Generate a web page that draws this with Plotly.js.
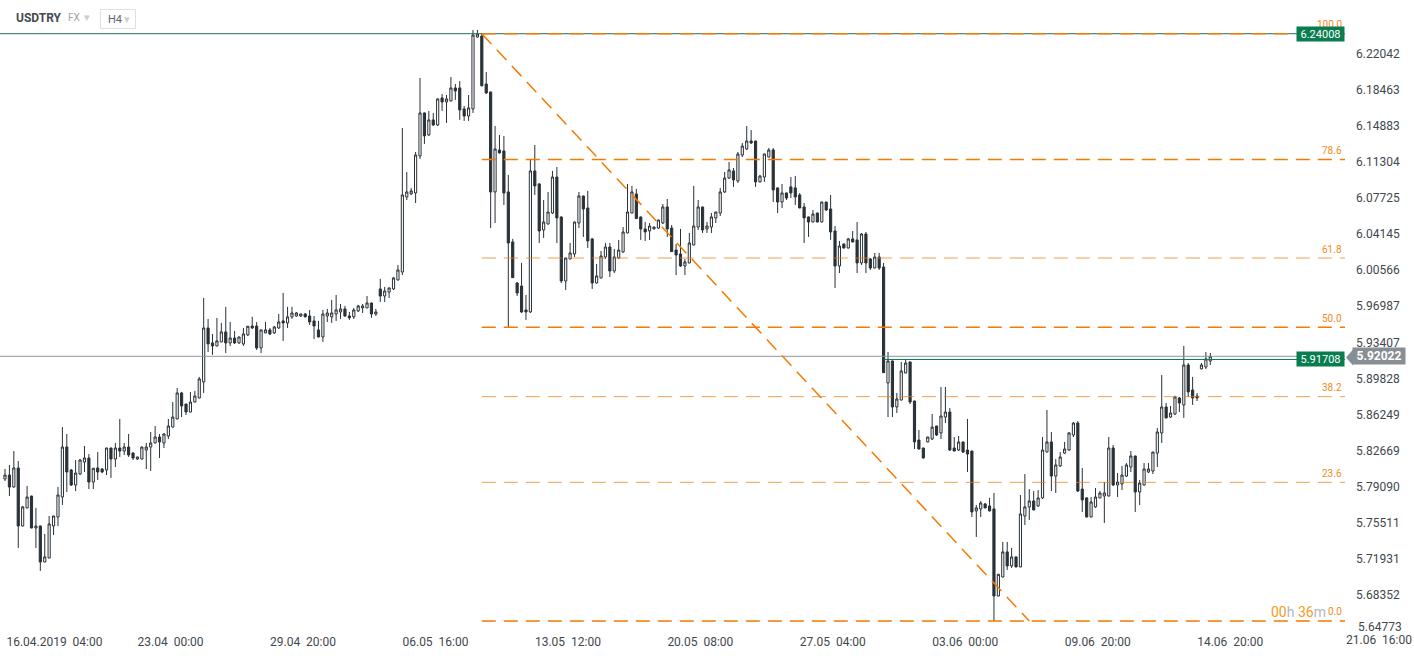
<!DOCTYPE html>
<html>
<head>
<meta charset="utf-8">
<script src="https://cdn.plot.ly/plotly-3.0.1.min.js"></script>
<style>
html,body{margin:0;padding:0;background:#fff;}
#chart{width:1414px;height:658px;}
</style>
</head>
<body>
<div id="chart"></div>
<script>
// ---------- DATA (USDTRY, H4) ----------
const symbol = 'USDTRY';
const market = 'FX';
const timeframe = 'H4';

const openP = [
5.7986,5.8025,5.7906,5.8095,5.7520,5.7699,5.7817,5.7500,5.7520,5.7163,
5.7203,5.7520,5.7609,5.7807,5.8303,5.8075,5.7926,5.8035,5.8154,5.8194,
5.7956,5.8095,5.8085,5.8075,5.8293,5.8184,5.8293,5.8263,5.8303,5.8243,
5.8184,5.8184,5.8273,5.8303,5.8343,5.8402,5.8343,5.8412,5.8501,5.8581,
5.8839,5.8729,5.8650,5.8749,5.8789,5.8948,5.9483,5.9335,5.9305,5.9345,
5.9444,5.9335,5.9384,5.9335,5.9325,5.9414,5.9503,5.9503,5.9285,5.9434,
5.9464,5.9434,5.9483,5.9553,5.9533,5.9593,5.9602,5.9602,5.9622,5.9602,
5.9553,5.9464,5.9394,5.9602,5.9593,5.9622,5.9642,5.9672,5.9602,5.9593,
5.9652,5.9682,5.9682,5.9731,5.9622,5.9870,5.9800,5.9840,5.9870,5.9959,
6.0038,6.0782,6.0812,6.0822,6.1188,6.1615,6.1397,6.1546,6.1496,6.1764,
6.1724,6.1734,6.1863,6.1863,6.1655,6.1585,6.1655,6.2368,6.2378,6.1902,
6.1823,6.0832,6.1248,6.1238,6.0832,6.0336,5.9929,5.9899,5.9662,5.9642,
6.1040,6.0911,6.0455,6.0514,6.0623,6.0980,6.0584,5.9949,6.0167,6.0217,
6.0524,6.0792,6.0673,6.0366,5.9929,5.9979,6.0187,6.0286,6.0048,6.0177,
6.0237,6.0425,6.0623,6.0812,6.0584,6.0465,6.0445,6.0465,6.0474,6.0524,
6.0683,6.0474,6.0256,6.0217,6.0098,6.0128,6.0306,6.0484,6.0683,6.0465,
6.0484,6.0574,6.0623,6.0832,6.0970,6.1040,6.0941,6.1198,6.1258,6.1337,
6.1337,6.0931,6.0980,6.1178,6.1248,6.0872,6.0732,6.0822,6.0882,6.0872,
6.0802,6.0683,6.0584,6.0534,6.0623,6.0534,6.0732,6.0663,6.0445,6.0098,
6.0316,6.0276,6.0366,6.0356,6.0128,6.0415,6.0167,6.0078,6.0187,6.0088,
5.8938,5.9156,5.8700,5.8769,5.9037,5.9146,5.8759,5.8372,5.8293,5.8353,
5.8382,5.8511,5.8442,5.8600,5.8650,5.8293,5.8273,5.8353,5.8273,5.8263,
5.7669,5.7689,5.7738,5.7719,5.7689,5.6826,5.7014,5.7263,5.7124,5.7213,
5.7114,5.7619,5.7709,5.7768,5.7719,5.7798,5.8253,5.8353,5.8015,5.8115,
5.8243,5.8273,5.8422,5.8541,5.7886,5.7798,5.7609,5.7709,5.7798,5.7817,
5.7817,5.8293,5.7926,5.7936,5.8015,5.8105,5.8214,5.7857,5.7926,5.8055,
5.8065,5.8243,5.8442,5.8700,5.8600,5.8630,5.8789,5.8720,5.9116,5.8868,
5.8809,5.9077,5.9096,5.9156
];
const highP = [
5.8085,5.8125,5.8263,5.8164,5.7719,5.7916,5.7820,5.7699,5.7523,5.7441,
5.7619,5.7622,5.7906,5.8501,5.8432,5.8085,5.8174,5.8184,5.8313,5.8233,
5.8095,5.8253,5.8095,5.8296,5.8296,5.8343,5.8581,5.8343,5.8432,5.8253,
5.8207,5.8306,5.8343,5.8452,5.8511,5.8432,5.8442,5.8581,5.8749,5.8888,
5.8849,5.8732,5.8849,5.8859,5.8998,5.9780,5.9573,5.9424,5.9583,5.9533,
5.9692,5.9543,5.9454,5.9397,5.9483,5.9503,5.9593,5.9543,5.9467,5.9543,
5.9483,5.9503,5.9622,5.9830,5.9692,5.9692,5.9642,5.9625,5.9632,5.9662,
5.9602,5.9553,5.9662,5.9672,5.9761,5.9810,5.9721,5.9702,5.9642,5.9682,
5.9712,5.9721,5.9800,5.9735,5.9672,5.9969,5.9890,5.9883,5.9989,6.0108,
6.1466,6.1030,6.0872,6.1228,6.1962,6.1620,6.1635,6.1615,6.1758,6.1803,
6.1794,6.1972,6.1902,6.1932,6.1684,6.1793,6.2438,6.2438,6.2408,6.2021,
6.1826,6.1486,6.1397,6.1387,6.1000,6.0366,5.9939,6.0128,5.9810,6.1159,
6.1298,6.0921,6.0752,6.0832,6.1040,6.1079,6.0588,6.0180,6.0326,6.0537,
6.0832,6.0795,6.0842,6.0376,6.0118,6.0247,6.0326,6.0326,6.0266,6.0356,
6.0484,6.0911,6.0892,6.0862,6.0588,6.0534,6.0524,6.0488,6.0557,6.0712,
6.0762,6.0504,6.0316,6.0465,6.0167,6.0425,6.0892,6.0752,6.0686,6.0534,
6.0623,6.0636,6.0872,6.1030,6.1129,6.1069,6.1228,6.1317,6.1486,6.1446,
6.1340,6.1000,6.1212,6.1268,6.1268,6.0875,6.0911,6.0825,6.0980,6.0990,
6.0822,6.0722,6.0588,6.0653,6.0626,6.0735,6.0735,6.0802,6.0494,6.0346,
6.0320,6.0376,6.0445,6.0534,6.0425,6.0435,6.0177,6.0227,6.0227,6.0128,
5.9245,5.9160,5.8839,5.9146,5.9176,5.9150,5.8762,5.8472,5.8296,5.8405,
5.8630,5.8514,5.8898,5.8898,5.8690,5.8402,5.8412,5.8356,5.8581,5.8266,
5.7728,5.7768,5.7748,5.7798,5.7847,5.7044,5.7362,5.7362,5.7302,5.7216,
5.7827,5.8035,5.7886,5.7866,5.7876,5.8402,5.8670,5.8452,5.8184,5.8253,
5.8353,5.8452,5.8551,5.8561,5.8095,5.7807,5.7807,5.7896,5.7866,5.7956,
5.8402,5.8323,5.8045,5.8115,5.8144,5.8263,5.8217,5.7976,5.8144,5.8144,
5.8256,5.8491,5.9017,5.8739,5.8710,5.8812,5.8799,5.9305,5.9136,5.8998,
5.8839,5.9136,5.9245,5.9235
];
const lowP = [
5.7966,5.7817,5.7900,5.7302,5.7515,5.7695,5.7497,5.7302,5.7074,5.7160,
5.7200,5.7431,5.7520,5.7728,5.7857,5.7916,5.7866,5.8025,5.8055,5.7886,
5.7886,5.7976,5.8045,5.8025,5.7996,5.8105,5.8204,5.8224,5.8204,5.8174,
5.8174,5.8180,5.8085,5.8065,5.8340,5.8194,5.8293,5.8382,5.8498,5.8578,
5.8600,5.8620,5.8647,5.8746,5.8786,5.8839,5.9245,5.9216,5.9302,5.9342,
5.9235,5.9305,5.9325,5.9325,5.9305,5.9404,5.9474,5.9265,5.9235,5.9431,
5.9414,5.9424,5.9474,5.9355,5.9483,5.9573,5.9593,5.9593,5.9590,5.9513,
5.9374,5.9390,5.9345,5.9543,5.9533,5.9553,5.9573,5.9593,5.9563,5.9573,
5.9642,5.9632,5.9680,5.9583,5.9602,5.9741,5.9741,5.9780,5.9860,5.9955,
6.0008,6.0752,6.0802,6.0722,6.1159,6.1308,6.1387,6.1486,6.1486,6.1635,
6.1516,6.1730,6.1744,6.1546,6.1536,6.1536,6.1615,6.2360,6.1878,6.1803,
6.0474,6.0524,6.1215,6.0703,5.9483,5.9979,5.9800,5.9632,5.9563,5.9632,
6.0802,6.0326,6.0376,6.0510,6.0613,6.0326,5.9929,5.9860,6.0165,6.0187,
6.0474,6.0386,6.0276,5.9870,5.9925,5.9975,6.0167,5.9989,6.0028,6.0167,
6.0227,6.0420,6.0620,6.0564,6.0356,6.0346,6.0356,6.0460,6.0465,6.0514,
6.0386,6.0237,6.0008,6.0088,6.0008,6.0125,6.0302,6.0455,6.0425,6.0425,
6.0425,6.0524,6.0593,6.0822,6.0961,6.0882,6.0921,6.1178,6.1248,6.1308,
6.0882,6.0928,6.0931,6.1175,6.0732,6.0623,6.0673,6.0752,6.0772,6.0703,
6.0670,6.0326,6.0386,6.0530,6.0530,6.0530,6.0643,6.0356,5.9880,6.0028,
6.0272,6.0272,6.0332,6.0028,6.0108,6.0028,6.0058,6.0075,6.0058,5.9037,
5.8600,5.8600,5.8640,5.8765,5.9033,5.8729,5.8283,5.8280,5.8190,5.8350,
5.8372,5.8412,5.8382,5.8541,5.8263,5.8260,5.8263,5.8243,5.8055,5.7609,
5.7411,5.7609,5.7695,5.7665,5.6578,5.6822,5.7010,5.7084,5.7104,5.7110,
5.7110,5.7530,5.7579,5.7676,5.7709,5.7788,5.8250,5.7866,5.7847,5.8105,
5.8233,5.8263,5.8402,5.7857,5.7659,5.7605,5.7605,5.7699,5.7795,5.7550,
5.7813,5.7916,5.7807,5.7876,5.8005,5.8055,5.7659,5.7728,5.7922,5.8045,
5.8035,5.8105,5.8343,5.8588,5.8591,5.8620,5.8650,5.8591,5.8799,5.8720,
5.8759,5.9074,5.9077,5.9116
];
const closeP = [
5.8025,5.7906,5.8095,5.7520,5.7709,5.7807,5.7500,5.7520,5.7163,5.7213,
5.7540,5.7619,5.7827,5.8303,5.8055,5.7926,5.8045,5.8174,5.8194,5.7956,
5.8092,5.8055,5.8055,5.8293,5.8184,5.8293,5.8263,5.8303,5.8224,5.8194,
5.8204,5.8303,5.8303,5.8343,5.8402,5.8353,5.8432,5.8511,5.8600,5.8839,
5.8710,5.8650,5.8749,5.8809,5.8978,5.9483,5.9325,5.9305,5.9355,5.9444,
5.9335,5.9384,5.9335,5.9394,5.9424,5.9500,5.9483,5.9285,5.9464,5.9464,
5.9424,5.9493,5.9543,5.9533,5.9593,5.9632,5.9632,5.9622,5.9593,5.9543,
5.9503,5.9394,5.9622,5.9632,5.9632,5.9662,5.9672,5.9602,5.9583,5.9662,
5.9702,5.9702,5.9731,5.9622,5.9642,5.9800,5.9850,5.9880,5.9979,6.0058,
6.0802,6.0832,6.0842,6.1198,6.1615,6.1387,6.1546,6.1496,6.1754,6.1724,
6.1754,6.1863,6.1833,6.1645,6.1585,6.1665,6.2388,6.2398,6.1885,6.1813,
6.0832,6.1258,6.1218,6.0822,6.0326,5.9982,5.9830,5.9642,5.9642,6.1040,
6.0892,6.0445,6.0534,6.0633,6.0980,6.0574,5.9949,6.0177,6.0227,6.0534,
6.0792,6.0663,6.0346,5.9929,5.9999,6.0197,6.0286,6.0048,6.0187,6.0256,
6.0435,6.0633,6.0832,6.0568,6.0465,6.0435,6.0494,6.0484,6.0554,6.0683,
6.0465,6.0240,6.0207,6.0098,6.0138,6.0326,6.0494,6.0683,6.0455,6.0494,
6.0584,6.0633,6.0832,6.0970,6.1050,6.0951,6.1208,6.1287,6.1337,6.1317,
6.0931,6.0990,6.1208,6.1248,6.0852,6.0732,6.0822,6.0772,6.0822,6.0782,
6.0673,6.0574,6.0534,6.0613,6.0534,6.0732,6.0653,6.0435,6.0098,6.0296,
6.0276,6.0366,6.0336,6.0128,6.0415,6.0128,6.0078,6.0187,6.0078,5.9040,
5.9156,5.8700,5.8779,5.9057,5.9136,5.8749,5.8353,5.8283,5.8194,5.8402,
5.8501,5.8422,5.8610,5.8650,5.8273,5.8263,5.8353,5.8253,5.8233,5.7659,
5.7699,5.7748,5.7699,5.7669,5.6826,5.7041,5.7263,5.7124,5.7213,5.7114,
5.7639,5.7709,5.7768,5.7679,5.7798,5.8273,5.8353,5.8015,5.8125,5.8204,
5.8283,5.8442,5.8541,5.7866,5.7778,5.7609,5.7758,5.7807,5.7847,5.7847,
5.8293,5.7926,5.7956,5.8025,5.8125,5.8214,5.7857,5.7946,5.8085,5.8085,
5.8253,5.8452,5.8700,5.8591,5.8640,5.8799,5.8739,5.9116,5.8849,5.8789,
5.8789,5.9116,5.9176,5.9202
];

// x-axis tick labels (candle index where each label sits)
const xTickIdx = [11.2, 37.5, 67.5, 97.5, 127.5, 157.5, 187.5, 217.5, 247.5, 277.5];
const xTickText = ['16.04.2019\u00a0\u00a004:00','23.04\u00a0\u00a000:00','29.04\u00a0\u00a020:00','06.05\u00a0\u00a016:00','13.05\u00a0\u00a012:00','20.05\u00a0\u00a008:00','27.05\u00a0\u00a004:00','03.06\u00a0\u00a000:00','09.06\u00a0\u00a020:00','14.06\u00a0\u00a020:00'];
const axisCornerLabel = '21.06\u00a0\u00a016:00';

// y-axis tick labels
const yTickText = ['6.22042','6.18463','6.14883','6.11304','6.07725','6.04145','6.00566','5.96987','5.93407','5.89828','5.86249','5.82669','5.79090','5.75511','5.71931','5.68352'];
const yBottomLabel = '5.64773';

// Fibonacci retracement drawing
const fibHigh = 6.24008, fibLow = 5.6578;
const fibHighIdx = 108, fibEndIdx = 232;
const fibLevels = [100, 78.6, 61.8, 50, 38.2, 23.6, 0];
const fibLabels = ['100.0','78.6','61.8','50.0','38.2','23.6','0.0'];
const fibStrong = [true, true, false, true, false, false, true];

// price lines
const highLine = 6.24008;
const supportLine = 5.91708;
const supportStartIdx = 199;
const lastPrice = 5.92022;
const countdown = ['00', 'h', ' 36', 'm'];

// ---------- LAYOUT HELPERS ----------
const W = 1414, H = 658, ML = 0, MR = 69, MT = 0, MB = 25;
const PW = W - ML - MR, PH = H - MT - MB;
const pxX = x => (x - ML) / PW;
const pxY = y => 1 - (y - MT) / PH;
const candlePx = 4.415, firstPx = 5;
const xRange = [(0 - firstPx) / candlePx, (PW - firstPx) / candlePx];
const yTop = 6.2735, yPerPx = 0.0009915;
const yRange = [yTop - yPerPx * PH, yTop];

const idx = openP.map((_, i) => i);
const dark = '#283137';
const orange = '#f47a00';
const orangeSoft = 'rgba(240,125,20,0.75)';
const green = '#0a7d50';

const trace = {
  type: 'candlestick',
  x: idx, open: openP, high: highP, low: lowP, close: closeP,
  increasing: {line: {color: dark, width: 1}, fillcolor: '#ffffff'},
  decreasing: {line: {color: dark, width: 1}, fillcolor: dark},
  whiskerwidth: 0,
  hoverinfo: 'skip',
  showlegend: false
};

const shapes = [];
const annotations = [];

// top (high) line
shapes.push({type:'line', xref:'x', yref:'y', x0:xRange[0]-5, x1:xRange[1]+50, y0:highLine, y1:highLine, line:{color:'#1f6f5c', width:1}, layer:'above'});
// last price grey line
shapes.push({type:'line', xref:'x', yref:'y', x0:xRange[0]-5, x1:xRange[1]+50, y0:lastPrice, y1:lastPrice, line:{color:'#8d979c', width:1}, layer:'above'});
// support green line
shapes.push({type:'line', xref:'x', yref:'y', x0:supportStartIdx, x1:xRange[1]+50, y0:supportLine, y1:supportLine, line:{color:green, width:1}, layer:'above'});

// fib levels
fibLevels.forEach((lv, k) => {
  const price = fibLow + (lv / 100) * (fibHigh - fibLow);
  shapes.push({type:'line', xref:'x', yref:'y', x0:fibHighIdx, x1:xRange[1]+50, y0:price, y1:price,
    line:{color: fibStrong[k] ? orange : orangeSoft, width: fibStrong[k] ? 1.5 : 1, dash:'14px,8px'}, layer:'above'});
  annotations.push({xref:'paper', yref:'y', x:pxX(1344), y:price, yshift:9, xanchor:'right', yanchor:'middle',
    text:fibLabels[k], showarrow:false, font:{family:'Roboto, Arial', size:10, color:'#f28a22'}});
});
// diagonal
shapes.push({type:'line', xref:'x', yref:'y', x0:fibHighIdx, y0:fibHigh, x1:fibEndIdx, y1:fibLow,
  line:{color:orange, width:1.5, dash:'14px,8px'}, layer:'above'});

// green price boxes
[highLine, supportLine].forEach(v => {
  annotations.push({xref:'paper', yref:'y', x:pxX(1345), y:v, xanchor:'right', yanchor:'middle',
    text:v.toFixed(5), showarrow:false, bgcolor:green, borderpad:2, width:43, height:10,
    font:{family:'Roboto, Arial', size:11, color:'#ffffff'}});
});
// last price box (grey with arrow)
annotations.push({xref:'paper', yref:'y', x:pxX(1352), y:lastPrice, xanchor:'left', yanchor:'middle',
  text:'<b>' + lastPrice.toFixed(5) + '</b>', showarrow:false, bgcolor:'#878f94', borderpad:2, width:48, height:12,
  font:{family:'Roboto, Arial', size:12, color:'#ffffff'}});
shapes.push({type:'path', xref:'paper', yref:'paper',
  path:`M ${pxX(1353)} ${pxY(349.5)} L ${pxX(1346)} ${pxY(357.5)} L ${pxX(1353)} ${pxY(365.5)} Z`,
  fillcolor:'#878f94', line:{width:0}, layer:'above'});

// bottom y label (shifted up like the reference)
annotations.push({xref:'paper', yref:'paper', x:pxX(1356), y:pxY(626.5), xanchor:'left', yanchor:'middle',
  text:yBottomLabel, showarrow:false, font:{family:'Roboto, Arial', size:12, color:'#41484d'}});
// corner date label
annotations.push({xref:'paper', yref:'paper', x:pxX(1378.5), y:pxY(640), xanchor:'center', yanchor:'middle',
  text:axisCornerLabel, showarrow:false, font:{family:'Roboto, Arial', size:12, color:'#41484d'}});

// countdown (placed just left of the 0.0 fib label)
annotations.push({xref:'paper', yref:'paper', x:pxX(1328), y:pxY(612), xanchor:'right', yanchor:'middle',
  text: countdown[0] + '<span style="color:#b3b7ba">' + countdown[1] + '</span>' + countdown[2] +
        '<span style="color:#b3b7ba">' + countdown[3] + '</span>', showarrow:false,
  font:{family:'Roboto, Arial', size:14, color:'#f59a23'}});

// header
annotations.push({xref:'paper', yref:'paper', x:pxX(14), y:pxY(18), xanchor:'left', yanchor:'middle',
  text:'<b>' + symbol + '</b>', showarrow:false, font:{family:'Roboto, Arial', size:12, color:'#434b52'}});
annotations.push({xref:'paper', yref:'paper', x:pxX(66), y:pxY(18), xanchor:'left', yanchor:'middle',
  text:market, showarrow:false, font:{family:'Roboto, Arial', size:10, color:'#9ba5ac'}});
annotations.push({xref:'paper', yref:'paper', x:pxX(82), y:pxY(18), xanchor:'left', yanchor:'middle',
  text:'\u25be', showarrow:false, font:{family:'DejaVu Sans, Arial', size:11, color:'#c7cdd1'}});
shapes.push({type:'rect', xref:'paper', yref:'paper', x0:pxX(100.5), x1:pxX(135.5), y0:pxY(9.5), y1:pxY(28.5),
  line:{color:'#dde1e4', width:1}, fillcolor:'#ffffff', layer:'above'});
annotations.push({xref:'paper', yref:'paper', x:pxX(106), y:pxY(19), xanchor:'left', yanchor:'middle',
  text:timeframe, showarrow:false, font:{family:'Roboto, Arial', size:11, color:'#5b666d'}});
annotations.push({xref:'paper', yref:'paper', x:pxX(122), y:pxY(19), xanchor:'left', yanchor:'middle',
  text:'\u25be', showarrow:false, font:{family:'DejaVu Sans, Arial', size:11, color:'#c7cdd1'}});

const layout = {
  width: W, height: H,
  margin: {l: ML, r: MR, t: MT, b: MB, pad: 0},
  paper_bgcolor: '#ffffff', plot_bgcolor: '#ffffff',
  showlegend: false,
  font: {family: 'Roboto, Arial, sans-serif', size: 12, color: '#41484d'},
  xaxis: {
    type: 'linear', range: xRange, fixedrange: true,
    showgrid: false, zeroline: false, showline: false, ticks: '',
    tickmode: 'array', tickvals: xTickIdx, ticktext: xTickText,
    tickfont: {family: 'Roboto, Arial', size: 12, color: '#41484d'},
    rangeslider: {visible: false}
  },
  yaxis: {
    side: 'right', range: yRange, fixedrange: true,
    showgrid: false, zeroline: false, showline: false, ticks: '',
    tickmode: 'array', tickvals: yTickText.map(Number), ticktext: yTickText,
    tickfont: {family: 'Roboto, Arial', size: 12, color: '#41484d'},
    ticklabelstandoff: 10
  },
  shapes: shapes,
  annotations: annotations
};

Plotly.newPlot('chart', [trace], layout, {displayModeBar: false, staticPlot: true});
</script>
</body>
</html>
